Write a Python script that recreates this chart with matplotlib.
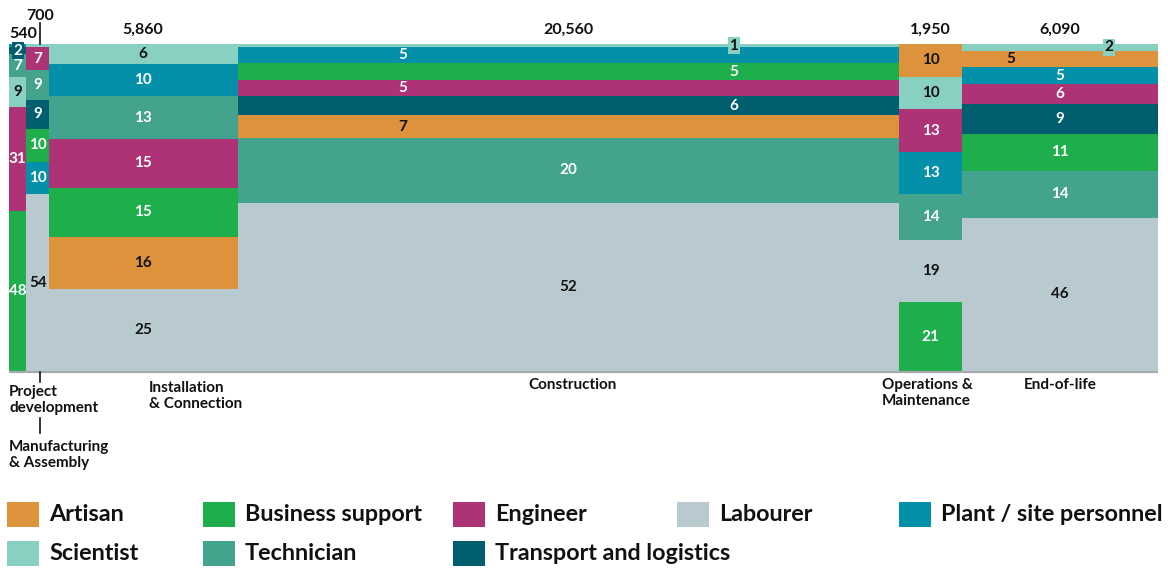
import matplotlib
matplotlib.use("Agg")
import matplotlib.pyplot as plt
from matplotlib.patches import Rectangle
import matplotlib.transforms as mtransforms

plt.rcParams['font.family'] = ['Lato', 'DejaVu Sans']

# ---------------- data ----------------
phases = ['Project\ndevelopment', 'Manufacturing\n& Assembly', 'Installation\n& Connection',
          'Construction', 'Operations &\nMaintenance', 'End-of-life']
jobs = [540, 700, 5860, 20560, 1950, 6090]
job_labels = ['540', '700', '5,860', '20,560', '1,950', '6,090']

categories = ['Artisan', 'Business support', 'Engineer', 'Labourer',
              'Plant / site personnel', 'Scientist', 'Technician', 'Transport and logistics']
colors = ['#DD923C', '#1EAE4B', '#AD3276', '#B9C9D0', '#0390A8', '#88D0C2', '#44A38C', '#005E6E']
text_dark = [True, False, False, True, False, True, False, False]

# share (%) of each occupation per phase
artisan    = [0, 0, 16, 7, 10, 5]
business   = [48, 10, 15, 5, 21, 11]
engineer   = [31, 7, 15, 5, 13, 6]
labourer   = [0, 54, 25, 52, 19, 46]
plant      = [1, 10, 10, 5, 13, 5]
scientist  = [9, 1, 6, 1, 10, 2]
technician = [7, 9, 13, 20, 14, 14]
transport  = [2, 9, 0, 6, 0, 9]
shares = [artisan, business, engineer, labourer, plant, scientist, technician, transport]

# stacking order (bottom -> top) per phase, category indices
A, B, E, L, P, S, T, TR = range(8)
stack_order = [
    [B, E, S, T, TR, P],
    [L, P, B, TR, T, E, S],
    [L, A, B, E, T, P, S],
    [L, T, A, TR, E, B, P, S],
    [B, L, T, P, E, S, A],
    [L, T, B, TR, E, P, A, S],
]
hidden_labels = {(0, P), (1, S)}
label_xfrac = {(3, P): 0.25, (3, S): 0.75, (3, B): 0.75, (3, E): 0.25, (3, TR): 0.75,
               (3, A): 0.25, (5, S): 0.75, (5, A): 0.25}

# ---------------- figure ----------------
W, H = 1168, 568
fig = plt.figure(figsize=(W / 100, H / 100), dpi=100)
ax_l, ax_r, ax_t, ax_b = 9, 1158, 44, 371
ax = fig.add_axes([ax_l / W, 1 - ax_b / H, (ax_r - ax_l) / W, (ax_b - ax_t) / H])
total = sum(jobs)
ax.set_xlim(0, total)
ax.set_ylim(0, 100)
ax.axis('off')

def py2ay(py):
    return (ax_b - py) / (ax_b - ax_t)

px_per_x = (ax_r - ax_l) / total
blend = mtransforms.blended_transform_factory(ax.transData, ax.transAxes)

left = 0
lefts, centers = [], []
for i, w in enumerate(jobs):
    lefts.append(left)
    centers.append(left + w / 2)
    col_total = sum(shares[c][i] for c in stack_order[i])
    bottom = 0
    for c in stack_order[i]:
        v = shares[c][i]
        h = v * 100 / col_total
        ax.bar(left, h, width=w, bottom=bottom, align='edge', color=colors[c], linewidth=0)
        if (i, c) not in hidden_labels:
            xf = label_xfrac.get((i, c), 0.5)
            tc = '#111111' if text_dark[c] else 'white'
            bbox = None
            if v <= 2:
                bbox = dict(boxstyle='square,pad=0.1', facecolor=colors[c], edgecolor='none')
            ax.text(left + w * xf, bottom + h / 2, str(v), ha='center', va='center',
                    fontsize=11, fontweight='bold', color=tc, bbox=bbox, zorder=5)
        bottom += h
    left += w

# bottom axis line
ax.plot([0, total], [-0.3, -0.3], color='#A7A9AC', lw=1.6, clip_on=False, solid_capstyle='butt')

# top totals
tk = dict(fontsize=11.5, fontweight='bold', color='#111111', transform=blend, clip_on=False)
mx = centers[1] + 2.5 / px_per_x
ax.text(lefts[0], py2ay(34.5), job_labels[0], ha='left', va='center', **tk)
ax.text(mx, py2ay(15.5), job_labels[1], ha='center', va='center', **tk)
ax.plot([mx] * 2, [py2ay(23), py2ay(44)], color='#111111', lw=1.2, transform=blend, clip_on=False)
for i in range(2, 6):
    ax.text(centers[i], py2ay(30), job_labels[i], ha='center', va='center', **tk)

# bottom phase labels
bk = dict(fontsize=11, fontweight='bold', color='#111111', transform=blend, clip_on=False,
          va='top', linespacing=1.15)
ax.text(lefts[0], py2ay(385), phases[0], ha='left', **bk)
ax.plot([mx] * 2, [py2ay(372), py2ay(382)], color='#111111', lw=1.2, transform=blend, clip_on=False)
ax.plot([mx] * 2, [py2ay(418), py2ay(433)], color='#111111', lw=1.2, transform=blend, clip_on=False)
ax.text(lefts[0], py2ay(440), phases[1], ha='left', **bk)
ax.text(centers[2] + 6 / px_per_x, py2ay(381), phases[2], ha='left', **bk)
ax.text(centers[3] + 4 / px_per_x, py2ay(378), phases[3], ha='center', **bk)
ax.text(centers[4] - 3 / px_per_x, py2ay(378), phases[4], ha='center', multialignment='left', **bk)
ax.text(centers[5], py2ay(378), phases[5], ha='center', **bk)

# legend
leg_x = [7, 203, 453, 677, 899, 7, 203, 453]
leg_y = [514.5, 514.5, 514.5, 514.5, 514.5, 553, 553, 553]
for c, name in enumerate(categories):
    x0, yc = leg_x[c], leg_y[c]
    fig.patches.append(Rectangle((x0 / W, 1 - (yc + 12.5) / H), 32 / W, 25 / H,
                                 transform=fig.transFigure, facecolor=colors[c], edgecolor='none'))
    fig.text((x0 + 42) / W, 1 - yc / H, name, ha='left', va='center', fontsize=16.8,
             fontweight='bold', color='#111111')

fig.savefig('out.png', dpi=100)
